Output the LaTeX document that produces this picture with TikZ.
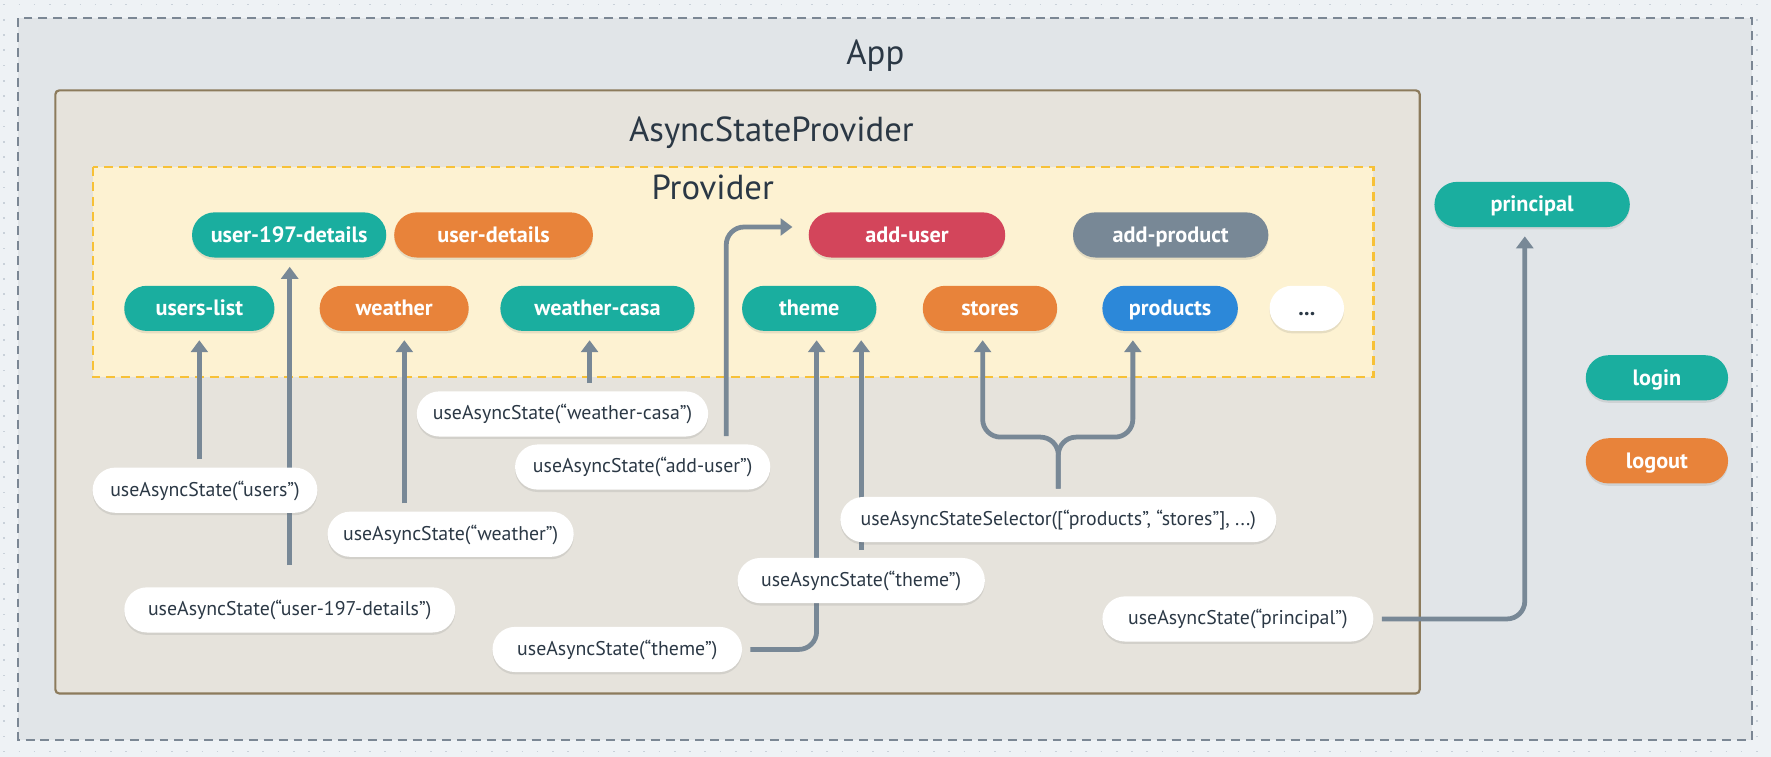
\documentclass[tikz,border=0pt]{standalone}
\usepackage{fontspec}
\setmainfont{PT Sans}
\usetikzlibrary{arrows.meta,shadows}

\definecolor{pagebg}{HTML}{EEF2F5}
\definecolor{dotc}{HTML}{C9D1D9}
\definecolor{appfill}{HTML}{E1E5E8}
\definecolor{appline}{HTML}{7B8794}
\definecolor{aspfill}{HTML}{E6E3DC}
\definecolor{aspline}{HTML}{8C7B5C}
\definecolor{provfill}{HTML}{FDF2D2}
\definecolor{provline}{HTML}{F7C137}
\definecolor{ink}{HTML}{2B3845}
\definecolor{tealc}{HTML}{1AAE9F}
\definecolor{orangec}{HTML}{E8833A}
\definecolor{redc}{HTML}{D3455B}
\definecolor{greyc}{HTML}{788896}
\definecolor{bluec}{HTML}{2C88D9}
\definecolor{linkc}{HTML}{788896}

\pgfdeclarelayer{front}
\pgfsetlayers{main,front}

\begin{document}
\begin{tikzpicture}[x=0.02cm, y=-0.02cm,
  state/.style = {rounded corners=0.4cm, minimum height=0.8cm, inner sep=0pt,
    text height=7.5pt, text depth=0pt, text=white,
    font=\fontsize{11.2}{13}\selectfont\bfseries,
    drop shadow={shadow xshift=0pt, shadow yshift=-1.2pt, fill=black!60, opacity=0.15}},
  call/.style = {state, fill=white, text=ink, text height=7pt, text depth=1pt,
    font=\fontsize{10}{12}\selectfont},
  link/.style = {draw=linkc, line width=2.4pt, rounded corners=9pt,
    -{Triangle[width=8.5pt,length=6pt]}, shorten <=4pt, shorten >=4.5pt},
  title/.style = {anchor=base, text=ink, font=\fontsize{17.5}{20}\selectfont}]
\useasboundingbox (0,0) rectangle (1568,670);
\fill[pagebg] (0,0) rectangle (1568,670);
\foreach \gy in {4,17.5,...,670}
  \draw[dotc, line width=0.8pt, dash pattern=on 0.8pt off 6.88pt] (3,\gy) -- (1568,\gy);

% containers
\draw[appline, fill=appfill, line width=1.2pt, dash pattern=on 4.5pt off 3pt] (16,16) rectangle (1551,655);
\node[title] (appTitle) at (775,57.5) {App};
\draw[aspline, fill=aspfill, line width=1.1pt, rounded corners=2pt] (49,80) rectangle (1257,614);
\node[title] (aspTitle) at (683,125.5) {AsyncStateProvider};
\draw[provline, fill=provfill, line width=1.1pt, dash pattern=on 4.5pt off 3pt] (82,148) rectangle (1216,334);
\node[title] (provTitle) at (631,177) {Provider};

% states
\node[state, fill=tealc, minimum width=3.44cm] (user197) at (256,208) {user-197-details};
\node[state, fill=orangec, minimum width=3.52cm] (userDetails) at (437,208) {user-details};
\node[state, fill=redc, minimum width=3.48cm] (addUser) at (803,208) {add-user};
\node[state, fill=greyc, minimum width=3.46cm] (addProduct) at (1036.5,208) {add-product};
\node[state, fill=tealc, minimum width=2.66cm] (usersList) at (176.5,273) {users-list};
\node[state, fill=orangec, minimum width=2.64cm] (weather) at (349,273) {weather};
\node[state, fill=tealc, minimum width=3.44cm] (weatherCasa) at (529,273) {weather-casa};
\node[state, fill=tealc, minimum width=2.38cm] (theme) at (716.5,273) {theme};
\node[state, fill=orangec, minimum width=2.38cm] (stores) at (876.5,273) {stores};
\node[state, fill=bluec, minimum width=2.40cm] (products) at (1036,273) {products};
\node[state, fill=white, text=ink, minimum width=1.32cm] (more) at (1157,273) {...};
\node[state, fill=tealc, minimum width=3.46cm] (principal) at (1356.5,181) {principal};
\node[state, fill=tealc, minimum width=2.52cm] (login) at (1467,334.5) {login};
\node[state, fill=orangec, minimum width=2.52cm] (logout) at (1467,408) {logout};

% hooks
\begin{pgfonlayer}{front}
\node[call, minimum width=3.98cm] (useUsers) at (181.5,434) {useAsyncState(“users”)};
\node[call, minimum width=5.16cm] (useWeatherCasa) at (498,366.5) {useAsyncState(“weather-casa”)};
\node[call, minimum width=4.52cm] (useAddUser) at (569,413.5) {useAsyncState(“add-user”)};
\node[call, minimum width=4.36cm] (useWeather) at (399,473) {useAsyncState(“weather”)};
\node[call, minimum width=5.86cm] (use197) at (256.5,540) {useAsyncState(“user-197-details”)};
\node[call, minimum width=4.42cm] (useThemeLow) at (546.5,575) {useAsyncState(“theme”)};
\node[call, minimum width=4.38cm] (useThemeHigh) at (762.5,514) {useAsyncState(“theme”)};
\node[call, minimum width=7.72cm] (useSelector) at (937,460) {useAsyncStateSelector([“products”, “stores”], ...)};
\node[call, minimum width=4.80cm] (usePrincipal) at (1096,548) {useAsyncState(“principal”)};
\end{pgfonlayer}

% links
\draw[link] (useUsers.north -| usersList.south) -- (usersList.south);
\draw[link, shorten <=11pt] (use197.north) -- (use197.north |- user197.south);
\draw[link] (useWeather.north -| 358,0) -- (weather.south -| 358,0);
\draw[link] (useWeatherCasa.north -| 522,0) -- (weatherCasa.south -| 522,0);
\draw[link, shorten >=8pt] (useAddUser.north -| 643,0) |- ([yshift=4pt]addUser.west);
\draw[link] (useThemeLow.east) -| (theme.south -| 723,0);
\draw[link] (useThemeHigh.north) -- (useThemeHigh.north |- theme.south);
\draw[link] (useSelector.north) -- (useSelector.north |- 0,387) -| (stores.south -| 870,0);
\draw[link] (useSelector.north) -- (useSelector.north |- 0,387) -| (products.south -| 1003,0);
\draw[link] (usePrincipal.east) -| (principal.south -| 1350,0);
\end{tikzpicture}
\end{document}
